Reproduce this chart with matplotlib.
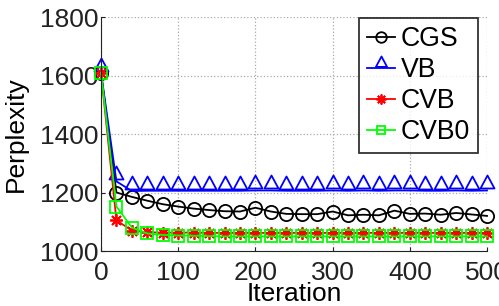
import matplotlib
matplotlib.use("Agg")
import matplotlib.pyplot as plt
from matplotlib.path import Path

iterations = list(range(0, 501, 20))
cgs = [1610, 1200, 1185, 1172, 1160, 1152, 1145, 1140, 1136, 1135, 1148, 1135, 1127, 1126, 1126, 1135,
       1122, 1124, 1122, 1138, 1127, 1128, 1124, 1130, 1125, 1120]
vb = [1610, 1238, 1205, 1206, 1206, 1206, 1206, 1206, 1206, 1206, 1207, 1207, 1206, 1206, 1206, 1207,
      1206, 1207, 1206, 1207, 1207, 1206, 1206, 1207, 1206, 1207]
cvb = [1610, 1105, 1070, 1064, 1063, 1063, 1063, 1062, 1062, 1062, 1062, 1062, 1062, 1062, 1062, 1062,
       1062, 1062, 1062, 1062, 1062, 1062, 1062, 1062, 1062, 1062]
cvb0 = [1610, 1152, 1080, 1060, 1055, 1053, 1052, 1051, 1050, 1050, 1050, 1050, 1050, 1050, 1050, 1050,
        1050, 1050, 1050, 1050, 1050, 1050, 1050, 1050, 1050, 1050]
labels = ["CGS", "VB", "CVB", "CVB0"]
xticks = [0, 100, 200, 300, 400, 500]
yticks = [1000, 1200, 1400, 1600, 1800]

plt.rcParams['font.family'] = ['Liberation Sans', 'DejaVu Sans']

fig = plt.figure(figsize=(4.99, 3.06), dpi=100)
ax = fig.add_axes([0.2024, 0.1797, 0.976 - 0.2024, 0.9444 - 0.1797])

# triangle sitting slightly above its data point (as in the reference rendering)
tri = Path([(0, 15), (-7, 2), (7, 2), (0, 15)], closed=True)
asterisk = (8, 2, 0)

styles = [
    dict(color='black', marker='o', ms=9.5),
    dict(color='blue', marker=tri, ms=21.6),
    dict(color='red', marker=asterisk, ms=9),
    dict(color=(0, 1, 0), marker='s', ms=8),
]
for ys, lab, st in zip([cgs, vb, cvb, cvb0], labels, styles):
    ax.plot(iterations, ys, color=st['color'], marker=st['marker'], markersize=st['ms'],
            markerfacecolor='none', markeredgecolor=st['color'], markeredgewidth=1.3,
            linewidth=1.3, label=lab, clip_on=False)

ax.set_xlim(0, 500)
ax.set_ylim(1000, 1800)
ax.set_xticks(xticks)
ax.set_yticks(yticks)
ax.tick_params(direction='in', labelsize=19, length=3, colors='#222222')
ax.tick_params(axis='x', pad=7)
ax.tick_params(axis='y', pad=2)
ax.grid(True, linestyle=':', color='#aaaaaa', linewidth=0.9)
for s in ['top', 'right']:
    ax.spines[s].set_visible(False)
for s in ['left', 'bottom']:
    ax.spines[s].set_color('#222222')
ax.set_xlabel('Iteration', fontsize=19, labelpad=-2)
ax.set_ylabel('Perplexity', fontsize=19)
ax.yaxis.set_label_coords(-0.189, 0.5)

leg = ax.legend(loc='upper right', bbox_to_anchor=(478 / 499, 1 - 18 / 306),
                bbox_transform=fig.transFigure, fontsize=19.2, frameon=True, fancybox=False,
                edgecolor='black', handlelength=1.05, handletextpad=0.2, borderpad=0.3,
                labelspacing=0.19, borderaxespad=0.0, markerscale=0.8)
leg.get_frame().set_linewidth(1.3)

fig.savefig('out.png', dpi=100)
